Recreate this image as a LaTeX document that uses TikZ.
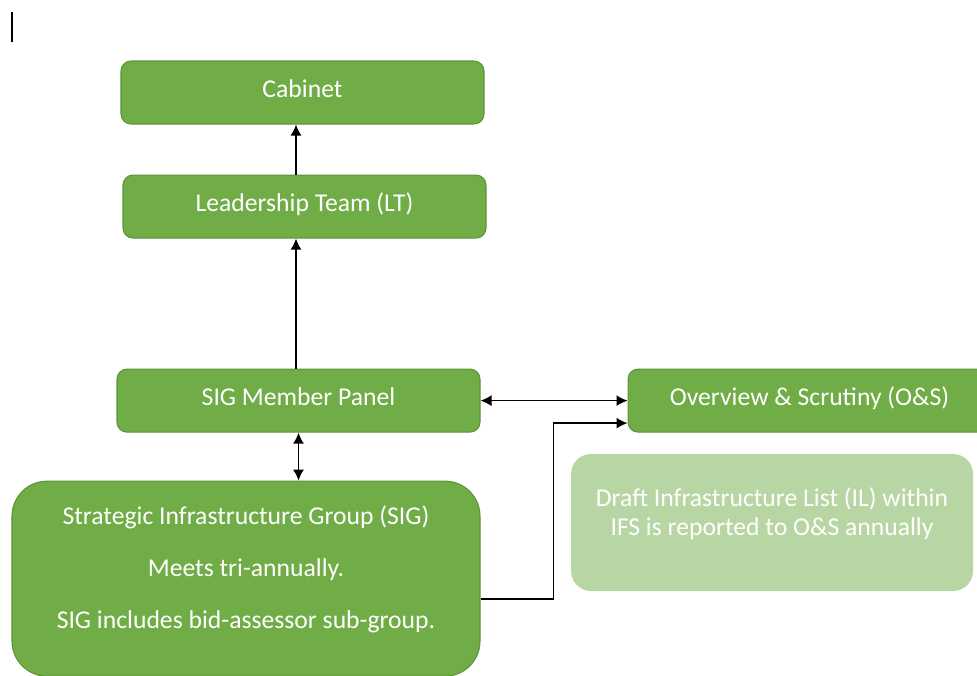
\documentclass[tikz,border=0pt]{standalone}
\usepackage{fontspec}
\setmainfont{Carlito}
\usetikzlibrary{arrows.meta, positioning}

\definecolor{boxgreen}{HTML}{70AD47}
\definecolor{boxline}{HTML}{5B9437}
\definecolor{palegreen}{HTML}{B8D6A4}

\tikzset{
  greenbox/.style={draw=boxline, fill=boxgreen, line width=0.6pt, rounded corners=0.2cm,
    text=white, minimum width=7.26cm, minimum height=1.26cm,
    font=\fontsize{14.6}{17}\selectfont},
  box/.style={greenbox, text height=0.36cm, text depth=0.18cm},
  groupbox/.style={greenbox, rounded corners=0.7cm, minimum width=9.36cm, minimum height=3.9cm, align=center},
  notebox/.style={fill=palegreen, rounded corners=0.4cm, text=white, align=center,
    minimum width=8.04cm, minimum height=2.74cm, font=\fontsize{14.6}{17}\selectfont},
  arr/.style={line width=0.85pt, -{Latex[length=0.22cm,width=0.22cm]}},
  biarr/.style={line width=0.85pt, {Latex[length=0.22cm,width=0.22cm]}-{Latex[length=0.22cm,width=0.22cm]}}
}

\begin{document}
\begin{tikzpicture}[auto]
          \useasboundingbox (0,0) rectangle (19.54,-13.5);
          \draw[line width=0.7pt] (0.24,-0.24) -- (0.24,-0.84);

          \node (cab) [box] at (6.05,-1.85) {Cabinet};
          \node (lt) [box, below=1cm of cab, xshift=0.04cm] {Leadership Team (LT)};
          \node (panel) [box, below=2.6cm of lt, xshift=-0.12cm] {SIG Member Panel};
          \node (os) [box, right=2.94cm of panel] {Overview \& Scrutiny (O\&S)};
          \node (sig) [groupbox, below=0.96cm of panel, xshift=-1.05cm]
              {Strategic Infrastructure Group (SIG)\\[12.6pt]
               Meets tri-annually.\\[12.6pt]
               SIG includes bid-assessor sub-group.\\[-4pt]\mbox{}};
          \node (list) [notebox, below=0.42cm of os, xshift=-0.75cm]
              {Draft Infrastructure List (IL) within\\
               IFS is reported to O\&S annually\\[-0.16cm]\mbox{}};

          \path [arr]
              ([xshift=-0.17cm]lt.north) edge ([xshift=-0.17cm]lt.north |- cab.south)
              ([xshift=-0.05cm]panel.north) edge ([xshift=-0.05cm]panel.north |- lt.south)
              ;
          \path [biarr]
              (panel.south) edge (panel.south |- sig.north)
              (panel.east) edge (os.west)
              ;
          \draw [arr] ([yshift=-0.41cm]sig.east) -- ++(1.46,0) |- ([yshift=-0.45cm]os.west);
      \end{tikzpicture}
\end{document}
